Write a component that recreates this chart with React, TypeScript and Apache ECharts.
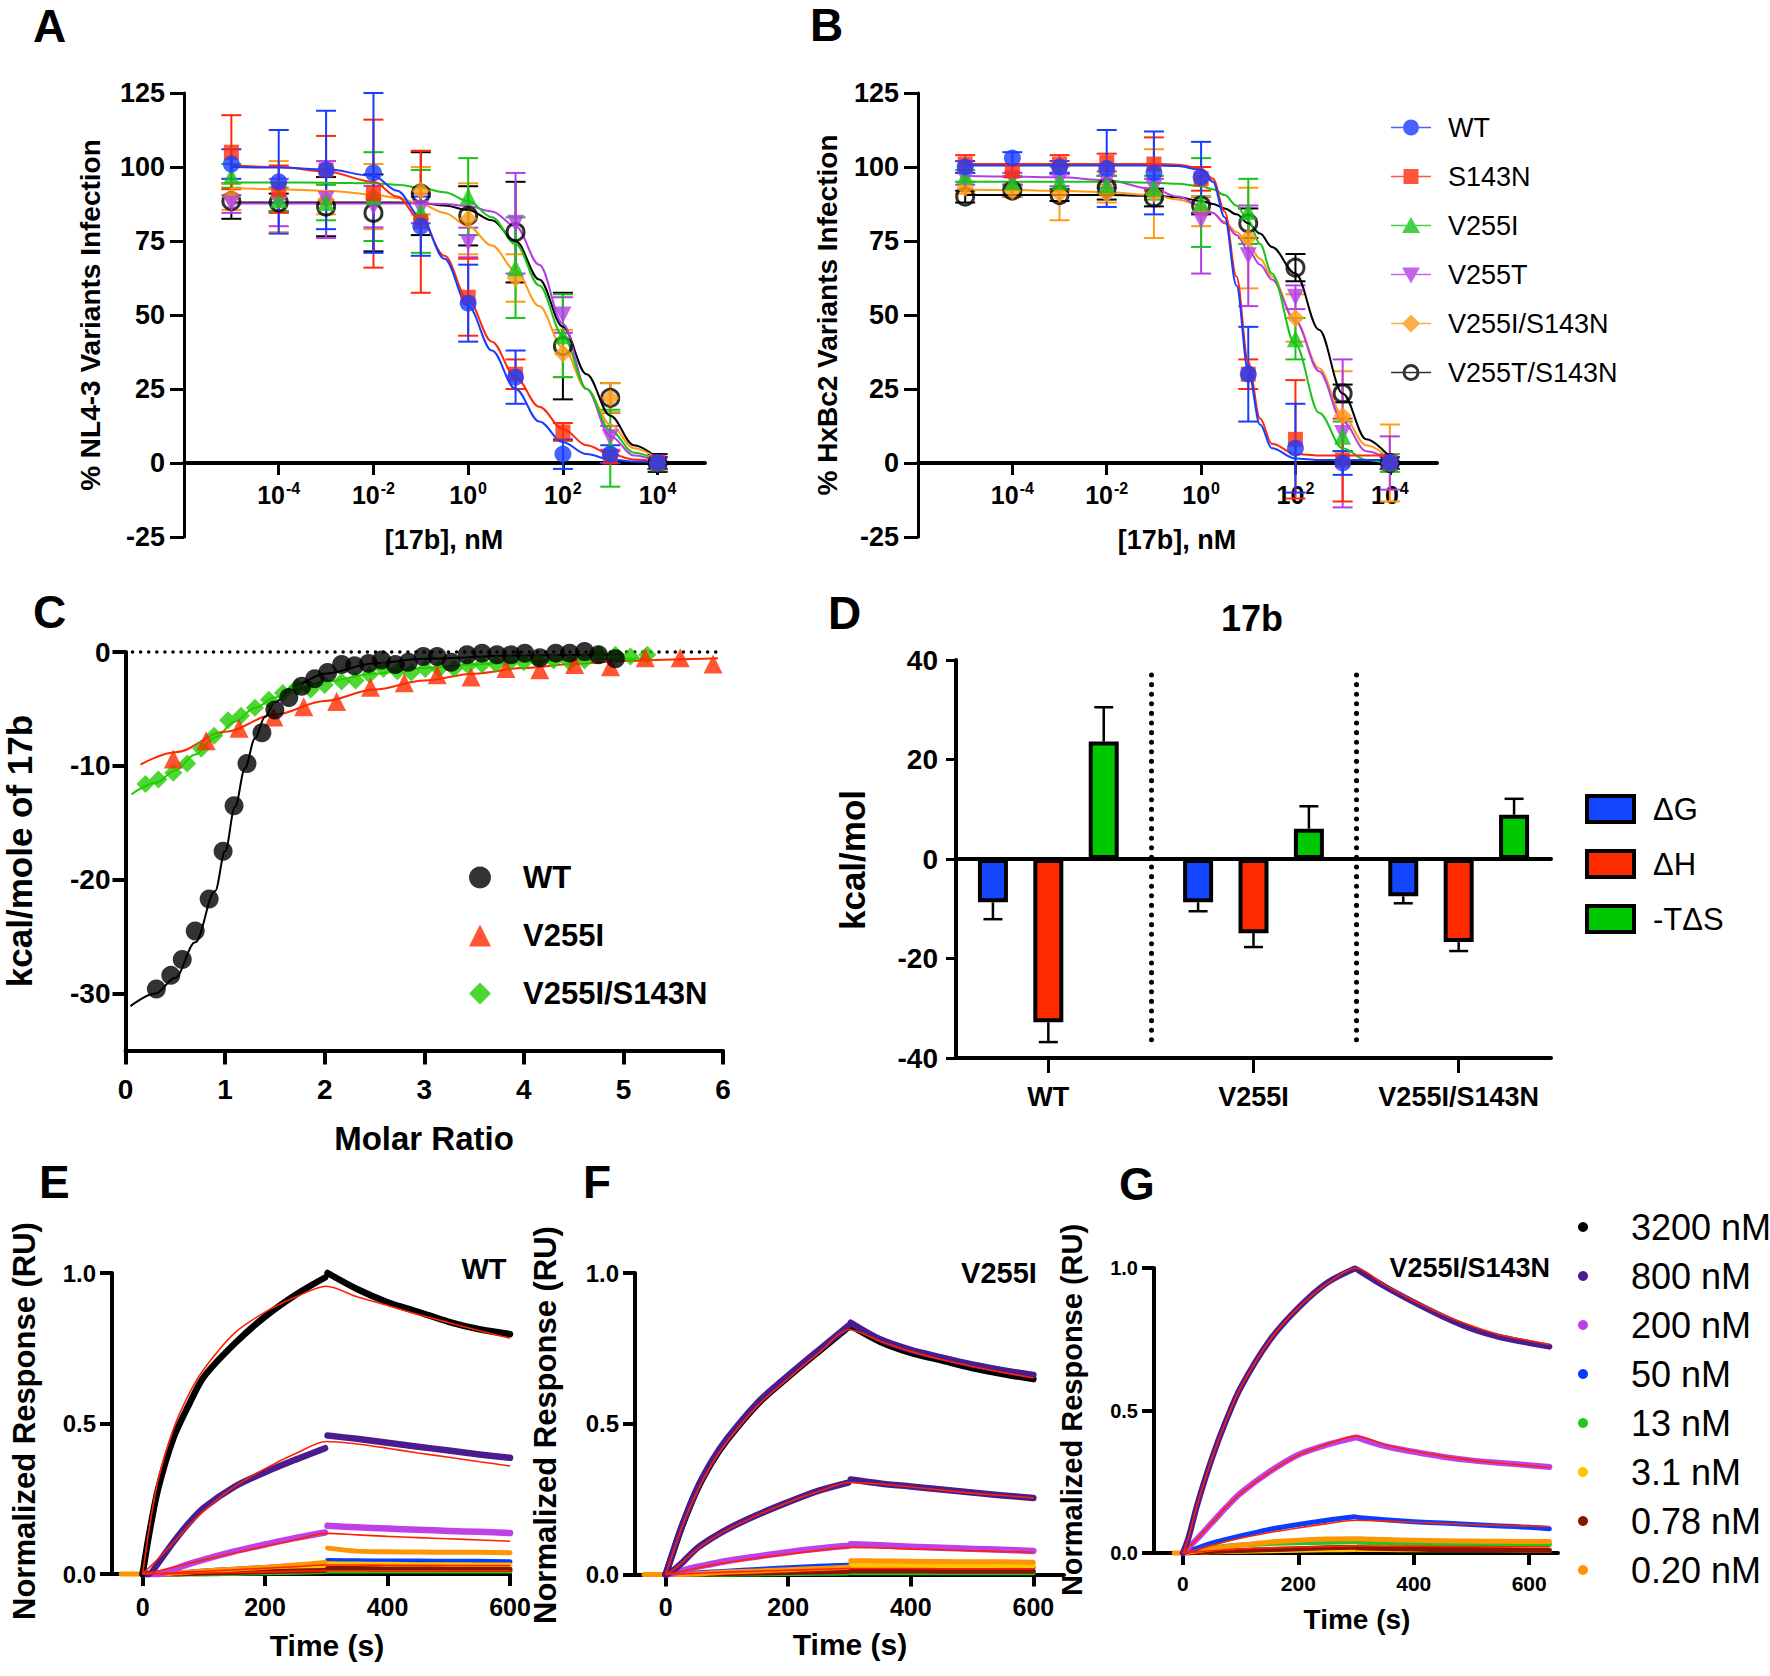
import React, { useEffect, useRef } from 'react';
import * as echarts from 'echarts';

const FONT = 'Liberation Sans, Arial, Helvetica, sans-serif';
const BLACK = '#000000';

// ---------------- Panels A & B (dose response) ----------------
const doseLog = [-5, -4, -3, -2, -1, 0, 1, 2, 3, 4];
const doseTicks = [-4, -2, 0, 2, 4];
const variantNames = ['WT', 'S143N', 'V255I', 'V255T', 'V255I/S143N', 'V255T/S143N'];
const variantColors = ['#1a3cff', '#ff2a0a', '#18c418', '#b43fe6', '#ff9a16', '#000000'];
const variantSymbols = ['circle', 'rect', 'triangle', 'triangle', 'diamond', 'circle'];
const variantRotate = [0, 0, 0, 180, 0, 0];
const variantSizes = [17, 15, 17, 17, 18, 17];

const nl43Mean = [
  [101, 95, 99, 98, 80, 54, 29, 3, 3, 0],
  [105, 92.5, 99, 91, 81.5, 56, 30, 10.5, 2, 0],
  [97, 89, 88, 90, 85, 90, 66, 43, 5, 0],
  [87.5, 88, 89, 86.6, 86, 74.5, 81, 50, 8.5, 0],
  [90, 90, 89, 90, 92, 82.5, 62.5, 37, 22, 0],
  [88.5, 88, 86.6, 84.5, 91, 83.5, 78, 39.5, 22, 0],
];
const nl43Sd = [
  [5, 17.5, 20, 27, 10, 13, 9, 5, 3, 2],
  [12.5, 8, 11.5, 25, 24, 13, 5, 3, 2, 2],
  [4, 4, 6, 15, 14, 13, 17, 14, 13, 2],
  [3, 8, 13, 7, 5, 5, 17, 6, 4, 2],
  [4.5, 12, 5, 11, 8, 12, 8, 8, 5, 2],
  [6, 3, 10, 13, 14, 10, 17, 18, 5, 3],
];
const nl43FitLog = [-5, -4, -3, -2, -1.5, -1, -0.5, 0, 0.5, 1, 1.5, 2, 2.5, 3, 3.5, 4];
const nl43Fit = [
  [100, 99.8, 99.2, 97, 92, 83, 69, 53, 38, 25, 14, 7, 3, 1.2, 0.5, 0.2],
  [100.5, 100, 98.5, 95, 90, 82, 70, 55, 41, 29, 19, 11.5, 6, 3, 1.2, 0.5],
  [94.8, 94.8, 94.7, 94.5, 94, 93, 91.5, 88.5, 83, 74, 60, 43, 25, 11, 3.5, 1],
  [87.7, 87.7, 87.7, 87.7, 87.7, 87.7, 87.5, 86.8, 85, 80, 67, 47, 25, 9, 2.5, 0.6],
  [92.9, 92.5, 92, 90.7, 89.5, 87.5, 84.5, 80, 73.5, 65, 53, 39, 25, 13, 5, 1.5],
  [88, 88, 88, 88, 88, 87.8, 87, 85.5, 82, 75, 62, 46, 30, 16, 6, 1.5],
];

const hxMean = [
  [100, 103, 100, 99.5, 98, 96.5, 30, 5, 0, 0],
  [101, 98.6, 101, 101.5, 101, 96, 30, 8, 1, 0],
  [97, 95, 95, 94, 93, 88, 85, 42, 9, 0],
  [96, 96, 95.5, 95, 93, 82, 70, 56, 10, 0],
  [93, 92, 91, 91, 91, 85, 76, 49, 16, 0],
  [90, 92, 90.5, 93, 89.7, 87, 81, 66, 23.5, 0],
];
const hxSd = [
  [2, 2, 2, 13, 14, 12, 16, 15, 4, 2],
  [3, 2, 3, 3, 9, 4, 5, 20, 14, 2],
  [2, 2, 3, 3, 4, 15, 11, 7, 5, 3],
  [2, 2, 2, 2, 3, 18, 17, 4, 25, 9],
  [2, 2, 9, 3, 15, 5, 17, 8, 15, 13],
  [2, 2, 2, 4, 3, 3, 5, 4.6, 3, 2],
];
const hxFitLog = [-5, -4, -3, -2, -1, -0.5, 0, 0.25, 0.5, 0.75, 1, 1.25, 1.5, 2, 2.5, 3, 3.5, 4];
const hxFit = [
  [100.5, 100.5, 100.5, 100.5, 100.5, 100.3, 99, 95, 83, 60, 31, 13, 5, 1.5, 1, 1, 1, 1],
  [101, 101, 101, 101, 101, 100.8, 99.5, 96, 85, 63, 34, 15, 6.5, 3, 2.5, 2.5, 2.5, 2.5],
  [95, 95, 95, 95, 94.7, 94.3, 93.5, 92.5, 90.5, 87, 82, 74, 64, 40, 17, 5, 1, -0.5],
  [97, 96.8, 96.5, 95.5, 92.5, 90, 87, 84.5, 81, 77, 72, 67, 62, 48, 31, 14, 4, 1],
  [92.3, 92.2, 92, 91.5, 90.5, 89, 87, 84.5, 81.5, 78, 74, 69, 63, 48, 32, 16, 6, 1.5],
  [90.5, 90.5, 90.5, 90.5, 90.3, 89.8, 88.5, 87.5, 86, 84, 81, 77.5, 73, 64, 45, 23.5, 8, 2],
];

// ---------------- Panel C (ITC) ----------------
const wtRatio = [0.31, 0.455, 0.57, 0.7, 0.84, 0.98, 1.09, 1.22, 1.37, 1.5, 1.64, 1.77, 1.9, 2.03, 2.17, 2.3, 2.44, 2.57, 2.71, 2.84, 2.99, 3.13, 3.27, 3.43, 3.58, 3.73, 3.87, 4.01, 4.16, 4.32, 4.46, 4.61, 4.75, 4.92];
const wtHeat = [-29.6, -28.4, -27, -24.5, -21.7, -17.5, -13.5, -9.8, -7.1, -5.1, -4.0, -3.0, -2.35, -1.8, -1.1, -1.2, -1.0, -0.7, -1.1, -0.9, -0.4, -0.4, -0.9, -0.25, -0.1, -0.25, -0.25, -0.1, -0.5, -0.1, -0.1, 0.05, -0.25, -0.6];
const v255iRatio = [0.48, 0.81, 1.14, 1.49, 1.79, 2.12, 2.46, 2.8, 3.13, 3.47, 3.82, 4.16, 4.51, 4.87, 5.22, 5.57, 5.9];
const v255iHeat = [-9.4, -7.8, -6.7, -5.7, -4.8, -4.35, -3.1, -2.7, -2.0, -2.2, -1.45, -1.55, -1.1, -1.3, -0.5, -0.5, -1.05];
const dblRatio = [0.2, 0.33, 0.48, 0.62, 0.76, 0.89, 1.03, 1.16, 1.3, 1.44, 1.58, 1.72, 1.86, 2.0, 2.17, 2.31, 2.45, 2.59, 2.73, 2.87, 3.01, 3.15, 3.3, 3.44, 3.58, 3.72, 3.86, 4.0, 4.14, 4.3, 4.46, 4.61, 4.75, 4.92, 5.07, 5.24];
const dblHeat = [-11.6, -11.2, -10.6, -9.8, -8.5, -7.35, -6.0, -5.6, -4.9, -4.2, -3.6, -3.1, -3.3, -2.9, -2.6, -2.5, -2.0, -1.5, -1.7, -1.8, -1.5, -1.5, -1.45, -1.2, -1.1, -1.05, -0.9, -0.9, -0.75, -0.75, -0.9, -0.75, -0.2, -0.25, -0.4, -0.25];
const wtFitRatio = [0.05, 0.3, 0.5, 0.7, 0.9, 1.0, 1.1, 1.2, 1.3, 1.4, 1.5, 1.7, 2.0, 2.5, 3, 4, 5];
const wtFitHeat = [-31.1, -30.0, -28.6, -25.5, -21, -17.5, -13.6, -10.2, -7.6, -5.7, -4.4, -2.9, -1.9, -1.0, -0.6, -0.3, -0.2];
const v255iFitRatio = [0.15, 0.5, 1.0, 1.5, 2, 2.5, 3, 3.5, 4, 4.5, 5, 5.5, 5.95];
const v255iFitHeat = [-9.9, -8.8, -7.0, -5.5, -4.3, -3.3, -2.5, -1.9, -1.4, -1.05, -0.8, -0.65, -0.55];
const dblFitRatio = [0.06, 0.3, 0.5, 0.7, 0.9, 1.1, 1.3, 1.5, 1.7, 2.0, 2.5, 3, 3.5, 4, 4.5, 5, 5.25];
const dblFitHeat = [-12.5, -11.5, -10.4, -9.0, -7.5, -6.1, -4.9, -4.0, -3.3, -2.6, -1.9, -1.4, -1.1, -0.85, -0.7, -0.6, -0.55];
const heatTicks = [0, -10, -20, -30];

// ---------------- Panel D (thermodynamics) ----------------
const thermoCats = ['WT', 'V255I', 'V255I/S143N'];
const thermoPos = [0, 1, 2];
const thermoNames = ['ΔG', 'ΔH', '-TΔS'];
const thermoColors = ['#1446ff', '#ff2a00', '#00c800'];
const thermoOffset = [-0.27, 0, 0.27];
const dG = [-8.7, -8.7, -7.5];
const dGErr = [-12.1, -10.5, -8.9];
const dH = [-32.8, -14.9, -16.7];
const dHErr = [-36.8, -17.7, -18.5];
const mTdS = [23.6, 6.1, 8.9];
const mTdSErr = [30.5, 10.6, 12.1];

// ---------------- Panels E, F, G (SPR) ----------------
const concNames = ['3200 nM', '800 nM', '200 nM', '50 nM', '13 nM', '3.1 nM', '0.78 nM', '0.20 nM'];
const concColors = ['#000000', '#4b1c8e', '#bf40e8', '#0a3cff', '#22c522', '#ffc400', '#8a1400', '#ff9500'];
const fitColor = '#ff2200';
const timeTicks = [0, 200, 400, 600];
const tBase = [-35, 0];
const tAssoc = [0, 10, 25, 50, 75, 100, 150, 200, 250, 298];
const tDiss = [302, 350, 400, 450, 500, 550, 600];
const tDissG = [302, 350, 400, 450, 500, 550, 600, 635];
const tFit = [0, 10, 25, 50, 75, 100, 150, 200, 250, 300, 350, 400, 450, 500, 550, 600];
const tFitG = [0, 10, 25, 50, 75, 100, 150, 200, 250, 300, 350, 400, 450, 500, 550, 600, 635];

const eAssoc = [
  [0, 0.125, 0.28, 0.45, 0.56, 0.655, 0.765, 0.855, 0.928, 0.985],
  [0, 0, 0.035, 0.105, 0.168, 0.22, 0.29, 0.338, 0.38, 0.418],
  [0, 0, 0, 0.015, 0.033, 0.048, 0.075, 0.098, 0.12, 0.138],
  [0, 0, 0, 0.003, 0.006, 0.01, 0.016, 0.022, 0.028, 0.034],
  [0, 0, 0, 0, 0, 0, 0.002, 0.004, 0.006, 0.008],
  [0, 0, 0, 0.002, 0.004, 0.006, 0.01, 0.014, 0.018, 0.022],
  [0, 0, 0, 0, 0.002, 0.003, 0.005, 0.008, 0.01, 0.012],
  [0, 0, 0, 0.003, 0.006, 0.01, 0.016, 0.022, 0.03, 0.038],
];
const eDiss = [
  [1.0, 0.947, 0.903, 0.871, 0.838, 0.813, 0.797],
  [0.46, 0.449, 0.436, 0.423, 0.41, 0.397, 0.386],
  [0.16, 0.155, 0.151, 0.147, 0.143, 0.14, 0.136],
  [0.045, 0.044, 0.043, 0.043, 0.042, 0.042, 0.041],
  [0.01, 0.01, 0.01, 0.01, 0.01, 0.01, 0.01],
  [0.034, 0.033, 0.032, 0.031, 0.031, 0.03, 0.03],
  [0.018, 0.018, 0.017, 0.017, 0.016, 0.016, 0.016],
  [0.086, 0.076, 0.074, 0.073, 0.072, 0.072, 0.071],
];
const eFit = [
  [0, 0.14, 0.31, 0.48, 0.595, 0.68, 0.8, 0.87, 0.92, 0.956, 0.921, 0.892, 0.862, 0.835, 0.808, 0.783],
  [0, 0.02, 0.05, 0.103, 0.16, 0.21, 0.29, 0.35, 0.4, 0.44, 0.432, 0.418, 0.402, 0.388, 0.373, 0.359],
  [0, 0.004, 0.01, 0.022, 0.035, 0.047, 0.07, 0.092, 0.114, 0.135, 0.13, 0.125, 0.121, 0.117, 0.113, 0.109],
  [0, 0.001, 0.002, 0.004, 0.007, 0.009, 0.014, 0.019, 0.024, 0.03, 0.03, 0.029, 0.029, 0.028, 0.028, 0.028],
  [0, 0, 0, 0.001, 0.002, 0.003, 0.005, 0.007, 0.009, 0.011, 0.011, 0.011, 0.011, 0.011, 0.011, 0.011],
];

const fCurveConc = [0, 1, 1, 2, 3, 4, 5, 6, 7];
const fCurveColors = ['#000000', '#4b1c8e', '#4b1c8e', '#bf40e8', '#0a3cff', '#22c522', '#ffc400', '#8a1400', '#ff9500'];
const fAssoc = [
  [0, 0.06, 0.15, 0.275, 0.37, 0.445, 0.565, 0.655, 0.74, 0.82],
  [0, 0.062, 0.153, 0.28, 0.375, 0.45, 0.57, 0.66, 0.745, 0.825],
  [0, 0.01, 0.035, 0.085, 0.12, 0.15, 0.198, 0.24, 0.278, 0.305],
  [0, 0.003, 0.012, 0.025, 0.035, 0.045, 0.06, 0.074, 0.086, 0.095],
  [0, 0, 0.002, 0.005, 0.008, 0.011, 0.017, 0.022, 0.027, 0.031],
  [0, 0, 0, 0, 0.001, 0.001, 0.002, 0.003, 0.004, 0.005],
  [0, 0, 0, 0.002, 0.004, 0.006, 0.009, 0.013, 0.017, 0.02],
  [0, 0, 0, 0.001, 0.002, 0.003, 0.005, 0.007, 0.008, 0.01],
  [0, 0, 0, 0.002, 0.005, 0.008, 0.012, 0.016, 0.02, 0.024],
];
const fDiss = [
  [0.825, 0.772, 0.735, 0.71, 0.685, 0.665, 0.648],
  [0.835, 0.78, 0.745, 0.72, 0.697, 0.678, 0.662],
  [0.315, 0.302, 0.292, 0.282, 0.272, 0.262, 0.254],
  [0.1, 0.097, 0.092, 0.089, 0.085, 0.082, 0.078],
  [0.03, 0.029, 0.028, 0.027, 0.026, 0.025, 0.025],
  [0.006, 0.006, 0.006, 0.006, 0.006, 0.006, 0.006],
  [0.03, 0.03, 0.029, 0.029, 0.028, 0.028, 0.028],
  [0.012, 0.012, 0.012, 0.011, 0.011, 0.011, 0.011],
  [0.046, 0.045, 0.044, 0.043, 0.042, 0.042, 0.041],
];
const fFit = [
  [0, 0.06, 0.15, 0.27, 0.365, 0.44, 0.56, 0.65, 0.735, 0.812, 0.774, 0.74, 0.713, 0.69, 0.67, 0.652],
  [0, 0.012, 0.036, 0.082, 0.118, 0.148, 0.197, 0.24, 0.276, 0.305, 0.3, 0.29, 0.28, 0.27, 0.262, 0.254],
  [0, 0.003, 0.01, 0.021, 0.031, 0.04, 0.055, 0.068, 0.08, 0.09, 0.088, 0.085, 0.082, 0.079, 0.076, 0.074],
  [0, 0.001, 0.002, 0.004, 0.006, 0.008, 0.011, 0.014, 0.017, 0.02, 0.02, 0.02, 0.019, 0.019, 0.019, 0.019],
];

const gCurveConc = [1, 2, 3, 4, 5, 6, 7];
const gAssoc = [
  [0, 0.055, 0.17, 0.33, 0.465, 0.58, 0.745, 0.86, 0.948, 0.998],
  [0, 0.02, 0.05, 0.105, 0.16, 0.21, 0.285, 0.345, 0.38, 0.405],
  [0, 0.007, 0.017, 0.035, 0.048, 0.06, 0.083, 0.1, 0.115, 0.127],
  [0, 0.005, 0.01, 0.018, 0.024, 0.028, 0.033, 0.036, 0.038, 0.04],
  [0, 0.001, 0.002, 0.004, 0.005, 0.006, 0.008, 0.01, 0.011, 0.012],
  [0, 0.001, 0.002, 0.005, 0.007, 0.009, 0.012, 0.015, 0.018, 0.02],
  [0, 0.003, 0.008, 0.015, 0.022, 0.028, 0.038, 0.045, 0.049, 0.05],
];
const gDiss = [
  [0.995, 0.935, 0.88, 0.83, 0.787, 0.757, 0.737, 0.724],
  [0.405, 0.375, 0.355, 0.338, 0.325, 0.316, 0.308, 0.302],
  [0.125, 0.117, 0.11, 0.105, 0.1, 0.095, 0.09, 0.085],
  [0.038, 0.036, 0.034, 0.033, 0.032, 0.031, 0.03, 0.03],
  [0.012, 0.012, 0.011, 0.011, 0.011, 0.011, 0.01, 0.01],
  [0.018, 0.016, 0.014, 0.012, 0.012, 0.011, 0.01, 0.01],
  [0.05, 0.047, 0.045, 0.043, 0.042, 0.041, 0.04, 0.04],
];
const gFit = [
  [0, 0.055, 0.17, 0.33, 0.465, 0.58, 0.745, 0.86, 0.945, 1.0, 0.94, 0.885, 0.837, 0.797, 0.765, 0.745, 0.732],
  [0, 0.02, 0.05, 0.105, 0.16, 0.208, 0.283, 0.343, 0.382, 0.41, 0.38, 0.358, 0.34, 0.326, 0.315, 0.306, 0.3],
  [0, 0.005, 0.013, 0.027, 0.04, 0.052, 0.072, 0.088, 0.103, 0.115, 0.112, 0.108, 0.104, 0.1, 0.097, 0.095, 0.093],
  [0, 0.002, 0.004, 0.008, 0.011, 0.014, 0.018, 0.021, 0.023, 0.025, 0.024, 0.024, 0.023, 0.023, 0.022, 0.022, 0.022],
];

// ---------------- helpers ----------------
const LINE_BAR = 'M0,9.2h40v1.6h-40z';
const ANCHORS = 'M0,0h0.1v0.1h-0.1z M39.9,19.9h0.1v0.1h-0.1z';
const legendIcons = [
  `path://${ANCHORS} ${LINE_BAR} M12,10a8,8 0 1,1 16,0a8,8 0 1,1 -16,0z`,
  `path://${ANCHORS} ${LINE_BAR} M12.5,2.5h15v15h-15z`,
  `path://${ANCHORS} ${LINE_BAR} M20,1.5l9,16h-18z`,
  `path://${ANCHORS} ${LINE_BAR} M11,3h18l-9,16z`,
  `path://${ANCHORS} ${LINE_BAR} M20,1l9,9l-9,9l-9,-9z`,
  `path://${ANCHORS} ${LINE_BAR} M11.5,10a8.5,8.5 0 1,1 17,0a8.5,8.5 0 1,1 -17,0z M14.5,10a5.5,5.5 0 1,0 11,0a5.5,5.5 0 1,0 -11,0z`,
];

const axLine = (w: number, onZero: boolean) => ({ show: true, onZero, lineStyle: { color: BLACK, width: w } });
const axTick = (len: number, w: number, extra: any = {}) => ({ show: true, length: len, lineStyle: { color: BLACK, width: w }, ...extra });
const axLabel = (size: number, margin: number, extra: any = {}) => ({ color: BLACK, fontSize: size, fontWeight: 'bold', fontFamily: FONT, margin, ...extra });
const noSplit = { show: false };

function errorBars(xi: number, yi: number, data: number[][], color: string, capHalf: number, lw: number, oneSided: boolean, z: number) {
  return {
    type: 'custom',
    name: 'err',
    xAxisIndex: xi,
    yAxisIndex: yi,
    silent: true,
    z,
    data,
    encode: { x: 0, y: [1, 2] },
    renderItem: (params: any, api: any) => {
      const x = api.value(0);
      const a = api.coord([x, api.value(2)]);
      const b = api.coord([x, api.value(1)]);
      const st = { stroke: color, lineWidth: lw, fill: 'none' };
      const children: any[] = [
        { type: 'line', shape: { x1: a[0], y1: a[1], x2: b[0], y2: b[1] }, style: st },
        { type: 'line', shape: { x1: a[0] - capHalf, y1: a[1], x2: a[0] + capHalf, y2: a[1] }, style: st },
      ];
      if (!oneSided) {
        children.push({ type: 'line', shape: { x1: b[0] - capHalf, y1: b[1], x2: b[0] + capHalf, y2: b[1] }, style: st });
      }
      return { type: 'group', children };
    },
  };
}

function sprCurve(xi: number, yi: number, name: string, color: string, assoc: number[], diss: number[], tD: number[], width: number, base: number[] | null) {
  const data: any[] = [];
  if (base) base.forEach((t) => data.push([t, 0]));
  tAssoc.forEach((t, i) => data.push([t, assoc[i]]));
  data.push([300, null]);
  tD.forEach((t, i) => data.push([t, diss[i]]));
  return {
    type: 'line', name, xAxisIndex: xi, yAxisIndex: yi, data, showSymbol: false, symbol: 'none',
    smooth: 0.3, connectNulls: false, clip: false, silent: true, z: 2,
    itemStyle: { color },
    lineStyle: { color, width, cap: 'round', join: 'round' },
  };
}

function sprFit(xi: number, yi: number, t: number[], vals: number[]) {
  return {
    type: 'line', name: 'fit', xAxisIndex: xi, yAxisIndex: yi, data: t.map((x, i) => [x, vals[i]]),
    showSymbol: false, symbol: 'none', smooth: 0.3, clip: false, silent: true, z: 5,
    lineStyle: { color: fitColor, width: 1.6 },
  };
}

function buildOption() {
  const grid = [
    { left: 184, top: 93, width: 521, height: 444 },
    { left: 918, top: 93, width: 519, height: 444 },
    { left: 125.5, top: 652, width: 597.5, height: 398.5 },
    { left: 956, top: 660, width: 595, height: 398 },
    { left: 112, top: 1273, width: 398, height: 301 },
    { left: 635, top: 1273, width: 429, height: 301.5 },
    { left: 1154, top: 1268, width: 404, height: 285 },
  ].map((g) => ({ ...g, containLabel: false, outerBoundsMode: 'none' }));

  const xAxis: any[] = [];
  const yAxis: any[] = [];

  // A, B axes (x idx 0,1 ; y idx 0,1). The x axis sits on y = 0 (74 px above the grid bottom).
  for (const g of [0, 1]) {
    xAxis.push({
      gridIndex: g, type: 'value', min: -6, max: 5, position: 'bottom', offset: -74,
      axisLine: axLine(4, false),
      axisTick: axTick(12, 3, { customValues: doseTicks }),
      axisLabel: {
        customValues: doseTicks, margin: 17, color: BLACK,
        formatter: (v: number) => `{b|10}{s|${v}}`,
        rich: {
          b: { fontSize: 25, fontWeight: 'bold', fontFamily: FONT, color: BLACK },
          s: { fontSize: 16, fontWeight: 'bold', fontFamily: FONT, color: BLACK, padding: [0, 0, 14, 1] },
        },
      },
      splitLine: noSplit,
    });
    yAxis.push({
      gridIndex: g, type: 'value', min: -25, max: 125, interval: 25,
      axisLine: axLine(3, false), axisTick: axTick(14, 3), axisLabel: axLabel(27, 19), splitLine: noSplit,
    });
  }
  // C axes (x 2, y 2)
  xAxis.push({
    gridIndex: 2, type: 'value', min: 0, max: 6, interval: 1,
    axisLine: axLine(4, false), axisTick: axTick(14, 4), axisLabel: axLabel(28, 25), splitLine: noSplit,
  });
  yAxis.push({
    gridIndex: 2, type: 'value', min: -35, max: 0,
    axisLine: axLine(4, false), axisTick: axTick(13, 4, { customValues: heatTicks }),
    axisLabel: axLabel(28, 15, { customValues: heatTicks }), splitLine: noSplit,
  });
  // D axes (x 3 bottom, x 4 zero line, y 3)
  xAxis.push({
    gridIndex: 3, type: 'value', min: -0.45, max: 2.45, position: 'bottom',
    axisLine: axLine(4, false), axisTick: axTick(15, 3, { customValues: thermoPos }),
    axisLabel: axLabel(27, 25, { customValues: thermoPos, formatter: (v: number) => thermoCats[Math.round(v)] }),
    splitLine: noSplit,
  });
  xAxis.push({
    gridIndex: 3, type: 'value', min: -0.45, max: 2.45, position: 'bottom', offset: -199,
    axisLine: axLine(4, false), axisTick: { show: false }, axisLabel: { show: false }, splitLine: noSplit,
  });
  yAxis.push({
    gridIndex: 3, type: 'value', min: -40, max: 40, interval: 20,
    axisLine: axLine(4, false), axisTick: axTick(10, 3), axisLabel: axLabel(28, 18), splitLine: noSplit,
  });
  // E, F, G axes (x 5,6,7 ; y 4,5,6)
  const sprMax = [600, 650, 650];
  const sprTickFont = [25, 25, 21];
  const sprYFont = [24, 24, 20];
  [4, 5, 6].forEach((g, k) => {
    xAxis.push({
      gridIndex: g, type: 'value', min: -50, max: sprMax[k], position: 'bottom',
      axisLine: axLine(4, false), axisTick: axTick(12, 4, { customValues: timeTicks }),
      axisLabel: axLabel(sprTickFont[k], 20, { customValues: timeTicks }), splitLine: noSplit,
    });
    yAxis.push({
      gridIndex: g, type: 'value', min: 0, max: 1, interval: 0.5,
      axisLine: axLine(4, false), axisTick: axTick(12, 4),
      axisLabel: axLabel(sprYFont[k], 16, { formatter: (v: number) => v.toFixed(1) }), splitLine: noSplit,
    });
  });

  const series: any[] = [];

  // ---- A & B ----
  const drawOrder = [5, 4, 3, 2, 1, 0];
  const panelsAB = [
    { xi: 0, yi: 0, mean: nl43Mean, sd: nl43Sd, fitX: nl43FitLog, fit: nl43Fit },
    { xi: 1, yi: 1, mean: hxMean, sd: hxSd, fitX: hxFitLog, fit: hxFit },
  ];
  for (const p of panelsAB) {
    for (const i of drawOrder) {
      const c = variantColors[i];
      series.push(errorBars(p.xi, p.yi, doseLog.map((x, j) => [x, p.mean[i][j] - p.sd[i][j], p.mean[i][j] + p.sd[i][j]]), c, 10, 2, false, 2));
    }
    for (const i of drawOrder) {
      const c = variantColors[i];
      series.push({
        type: 'line', name: 'fit', xAxisIndex: p.xi, yAxisIndex: p.yi,
        data: p.fitX.map((x, j) => [x, p.fit[i][j]]), showSymbol: false, symbol: 'none',
        smooth: 0.35, smoothMonotone: 'x', silent: true, z: 3, lineStyle: { color: c, width: 2 },
      });
    }
    for (const i of drawOrder) {
      const c = variantColors[i];
      const open = i === 5;
      series.push({
        type: 'scatter', name: variantNames[i], xAxisIndex: p.xi, yAxisIndex: p.yi,
        data: doseLog.map((x, j) => [x, p.mean[i][j]]),
        symbol: variantSymbols[i], symbolRotate: variantRotate[i], symbolSize: variantSizes[i],
        clip: false, silent: true, z: 4,
        itemStyle: open ? { color: 'rgba(0,0,0,0)', borderColor: BLACK, borderWidth: 3 } : { color: c, borderWidth: 0 },
      });
    }
  }

  // ---- C ----
  const cScatter = [
    { name: 'C-V255I/S143N', x: dblRatio, y: dblHeat, color: '#22cc00', symbol: 'diamond', size: 18 },
    { name: 'C-V255I', x: v255iRatio, y: v255iHeat, color: '#ff2a00', symbol: 'triangle', size: 19 },
    { name: 'C-WT', x: wtRatio, y: wtHeat, color: '#000000', symbol: 'circle', size: 19 },
  ];
  const cFits = [
    { x: dblFitRatio, y: dblFitHeat, color: '#22cc00' },
    { x: v255iFitRatio, y: v255iFitHeat, color: '#ff2a00' },
    { x: wtFitRatio, y: wtFitHeat, color: '#000000' },
  ];
  cScatter.forEach((s, k) => {
    series.push({
      type: 'scatter', name: s.name, xAxisIndex: 2, yAxisIndex: 2,
      data: s.x.map((x, j) => [x, s.y[j]]), symbol: s.symbol, symbolSize: s.size,
      clip: false, silent: true, z: 4, itemStyle: { color: s.color, borderWidth: 0 },
      markLine: k === 0 ? {
        silent: true, symbol: ['none', 'none'], label: { show: false }, z: 1,
        lineStyle: { color: BLACK, width: 3.5, type: [0.1, 8], cap: 'round' },
        data: [[{ coord: [0.07, 0] }, { coord: [6, 0] }]],
      } : undefined,
    });
  });
  cFits.forEach((f) => {
    series.push({
      type: 'line', name: 'fit', xAxisIndex: 2, yAxisIndex: 2, data: f.x.map((x, j) => [x, f.y[j]]),
      showSymbol: false, symbol: 'none', smooth: 0.35, smoothMonotone: 'x', silent: true, z: 3,
      lineStyle: { color: f.color, width: 2 },
    });
  });

  // ---- D ----
  const thermoVals = [dG, dH, mTdS];
  const thermoErrs = [dGErr, dHErr, mTdSErr];
  thermoVals.forEach((vals, k) => {
    series.push({
      type: 'bar', name: thermoNames[k], xAxisIndex: 3, yAxisIndex: 3, barWidth: 30, barGap: '-100%',
      data: thermoPos.map((p, i) => [p + thermoOffset[k], vals[i]]), silent: true, z: 3,
      itemStyle: { color: thermoColors[k], borderColor: BLACK, borderWidth: 4 },
      markLine: k === 0 ? {
        silent: true, symbol: ['none', 'none'], label: { show: false },
        lineStyle: { color: BLACK, width: 5, type: [0.1, 9.5], cap: 'round' },
        data: [
          [{ coord: [0.5, 37] }, { coord: [0.5, -38] }],
          [{ coord: [1.5, 37] }, { coord: [1.5, -38] }],
        ],
      } : undefined,
    });
    series.push(errorBars(3, 3, thermoPos.map((p, i) => [p + thermoOffset[k], vals[i], thermoErrs[k][i]]), BLACK, 9.5, 2.5, true, 2));
  });

  // ---- E ----
  const eOrder = [4, 3, 5, 6, 7, 2, 1, 0];
  eOrder.forEach((i) => {
    series.push(sprCurve(5, 4, concNames[i], concColors[i], eAssoc[i], eDiss[i], tDiss, i <= 2 ? 6.5 : 5, i === 7 ? tBase : null));
  });
  eFit.forEach((f) => series.push(sprFit(5, 4, tFit, f)));

  // ---- F ----
  const fOrder = [5, 4, 6, 7, 8, 3, 2, 0, 1];
  fOrder.forEach((r) => {
    series.push(sprCurve(6, 5, concNames[fCurveConc[r]], fCurveColors[r], fAssoc[r], fDiss[r], tDiss, r <= 3 ? 6.5 : 5, r === 5 || r === 8 ? tBase : null));
  });
  fFit.forEach((f) => series.push(sprFit(6, 5, tFit, f)));

  // ---- G ----
  const gOrder = [3, 4, 5, 6, 2, 1, 0];
  gOrder.forEach((r) => {
    const ci = gCurveConc[r];
    series.push(sprCurve(7, 6, concNames[ci], concColors[ci], gAssoc[r], gDiss[r], tDissG, r <= 1 ? 6 : 5, r === 6 ? [-15, 0] : null));
  });
  gFit.forEach((f) => series.push(sprFit(7, 6, tFitG, f)));

  // ---- legends ----
  const legend = [
    {
      orient: 'vertical', left: 1386, top: 107.5, itemWidth: 40, itemHeight: 20, itemGap: 19,
      selectedMode: false, symbolKeepAspect: true,
      textStyle: { color: BLACK, fontSize: 27, fontFamily: FONT, lineHeight: 30, padding: [0, 0, 0, 12] },
      itemStyle: { borderWidth: 0 },
      data: variantNames.map((n, i) => ({ name: n, icon: legendIcons[i], itemStyle: { color: variantColors[i], borderWidth: 0 } })),
    },
    {
      orient: 'vertical', left: 464, top: 855, itemWidth: 22, itemHeight: 22, itemGap: 23,
      selectedMode: false,
      formatter: (n: string) => n.slice(2),
      textStyle: { color: BLACK, fontSize: 31, fontWeight: 'bold', fontFamily: FONT, lineHeight: 35, padding: [0, 0, 0, 27] },
      itemStyle: { borderWidth: 0 },
      data: [
        { name: 'C-WT', icon: 'circle' },
        { name: 'C-V255I', icon: 'triangle' },
        { name: 'C-V255I/S143N', icon: 'diamond' },
      ],
    },
    {
      orient: 'vertical', left: 1580, top: 787, itemWidth: 47, itemHeight: 26, itemGap: 21,
      selectedMode: false, icon: 'rect',
      textStyle: { color: BLACK, fontSize: 31, fontFamily: FONT, lineHeight: 34, padding: [0, 0, 0, 14] },
      itemStyle: { borderColor: BLACK, borderWidth: 4 },
      data: thermoNames,
    },
    {
      orient: 'vertical', left: 1573, top: 1202, itemWidth: 10, itemHeight: 10, itemGap: 9,
      selectedMode: false, icon: 'circle',
      textStyle: { color: BLACK, fontSize: 36, fontFamily: FONT, lineHeight: 40, padding: [0, 0, 0, 38] },
      itemStyle: { borderWidth: 0 },
      lineStyle: { width: 0 },
      data: concNames.map((n, i) => ({ name: n, icon: 'circle', itemStyle: { color: concColors[i], borderWidth: 0 } })),
    },
  ];

  // ---- texts ----
  const T = (text: string, x: number, y: number, size: number, o: any = {}) => ({
    type: 'text', x, y, rotation: o.rot ? Math.PI / 2 : 0, silent: true, z: 10,
    style: {
      text, fill: BLACK, fontSize: size, fontWeight: o.w || 'bold', fontFamily: FONT,
      align: o.align || 'center', verticalAlign: 'middle',
    },
  });
  const graphic = [
    T('A', 33, 26, 46, { align: 'left' }),
    T('B', 810, 25, 46, { align: 'left' }),
    T('C', 33, 612, 46, { align: 'left' }),
    T('D', 828, 613, 46, { align: 'left' }),
    T('E', 39, 1182, 46, { align: 'left' }),
    T('F', 583, 1182, 46, { align: 'left' }),
    T('G', 1119, 1184, 46, { align: 'left' }),
    T('% NL4-3 Variants Infection', 90, 315, 28, { rot: true }),
    T('% HxBc2 Variants Infection', 827, 315, 28, { rot: true }),
    T('[17b], nM', 444, 540, 27),
    T('[17b], nM', 1177, 540, 27),
    T('kcal/mole of 17b', 19, 851, 35, { rot: true }),
    T('Molar Ratio', 424, 1138, 33),
    T('17b', 1252, 618, 36),
    T('kcal/mol', 852, 860, 35, { rot: true }),
    T('Normalized Response (RU)', 24, 1421, 31, { rot: true }),
    T('Normalized Response (RU)', 545, 1425, 31, { rot: true }),
    T('Normalized Response (RU)', 1072, 1410, 29, { rot: true }),
    T('Time (s)', 327, 1645, 30),
    T('Time (s)', 850, 1644, 30),
    T('Time (s)', 1357, 1619, 28),
    T('WT', 484, 1269, 29),
    T('V255I', 999, 1273, 29),
    T('V255I/S143N', 1550, 1268, 27, { align: 'right' }),
  ];

  return {
    animation: false,
    backgroundColor: '#ffffff',
    textStyle: { fontFamily: FONT },
    grid,
    xAxis,
    yAxis,
    legend,
    graphic,
    series,
  };
}

export default function App() {
  const ref = useRef<HTMLDivElement>(null);
  useEffect(() => {
    if (!ref.current) return;
    const chart = echarts.init(ref.current, null, { renderer: 'svg' });
    chart.setOption(buildOption() as any);
    return () => {
      chart.dispose();
    };
  }, []);
  return (
    <div
      ref={ref}
      style={{ position: 'absolute', left: 0, top: 0, width: 1770, height: 1676, background: '#ffffff' }}
    />
  );
}
